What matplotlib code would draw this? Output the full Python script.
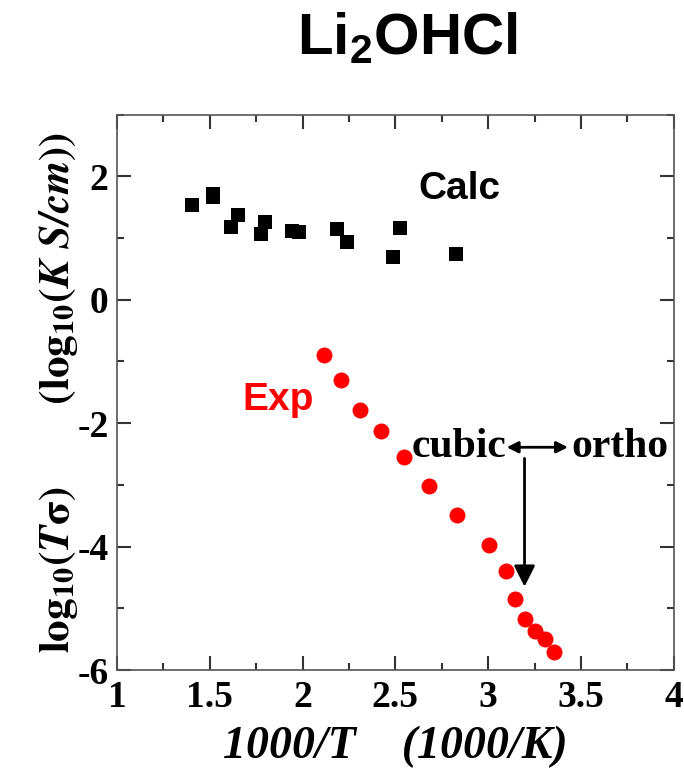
import matplotlib.pyplot as plt
from matplotlib.ticker import MultipleLocator

plt.rcParams['mathtext.fontset'] = 'custom'
plt.rcParams['mathtext.rm'] = 'Liberation Sans:bold'
plt.rcParams['mathtext.bf'] = 'Liberation Sans:bold'
plt.rcParams['mathtext.it'] = 'Liberation Sans:bold'
plt.rcParams['axes.unicode_minus'] = False

# calculated values (squares)
calc_x = [1.407, 1.515, 1.519, 1.612, 1.653, 1.774, 1.80, 1.945, 1.981, 2.185, 2.241, 2.487, 2.523, 2.825]
calc_y = [1.54, 1.72, 1.67, 1.18, 1.38, 1.07, 1.26, 1.11, 1.10, 1.15, 0.93, 0.70, 1.16, 0.74]

# experimental values (circles)
exp_x = [2.115, 2.205, 2.307, 2.424, 2.544, 2.681, 2.834, 3.004, 3.097, 3.146, 3.196, 3.250, 3.304, 3.357]
exp_y = [-0.90, -1.30, -1.78, -2.12, -2.55, -3.02, -3.49, -3.98, -4.40, -4.85, -5.17, -5.37, -5.49, -5.70]

x_ticks = [1, 1.5, 2, 2.5, 3, 3.5, 4]
x_labels = ['1', '1.5', '2', '2.5', '3', '3.5', '4']
y_ticks = [-6, -4, -2, 0, 2]
y_labels = ['-6', '-4', '-2', '0', '2']

serif = 'Liberation Serif'

fig = plt.figure(figsize=(6.84, 7.8), dpi=100)
ax = fig.add_axes([0.171, 0.141, 0.814, 0.712])

ax.plot(calc_x, calc_y, 's', color='black', ms=10.5, mew=0)
ax.plot(exp_x, exp_y, 'o', color='red', ms=11.5, mew=0)

ax.set_xlim(1, 4)
ax.set_ylim(-6, 3)
ax.set_xticks(x_ticks)
ax.set_xticklabels(x_labels)
ax.xaxis.set_minor_locator(MultipleLocator(0.25))
ax.set_yticks(y_ticks)
ax.set_yticklabels(y_labels)
ax.yaxis.set_minor_locator(MultipleLocator(1))
ax.tick_params(which='both', direction='in', top=True, right=True, width=1.5, color='#333333')
ax.tick_params(which='major', length=10, labelsize=27)
ax.tick_params(axis='x', which='major', pad=7)
ax.tick_params(axis='y', which='major', pad=6)
ax.tick_params(which='minor', length=5)
for lab in ax.get_xticklabels() + ax.get_yticklabels():
    lab.set_fontfamily(serif)
    lab.set_fontweight('bold')
for s in ax.spines.values():
    s.set_color('#555555')
    s.set_linewidth(1.2)

ax.set_xlabel('1000/T    (1000/K)', fontfamily=serif, fontweight='bold', fontstyle='italic',
              fontsize=33, labelpad=8)
ax.set_ylabel(r'$\mathbf{log_{10}(}\mathbfit{T}\mathbf{\sigma)}$      '
              r'$\mathbf{(log_{10}(}\mathbfit{K\ S/cm}\mathbf{))}$',
              fontsize=31, math_fontfamily='stix', labelpad=-2)

ax.text(2.625, 1.79, 'Calc', fontsize=28, fontweight='bold', fontfamily='Liberation Sans',
        va='center', ha='left')
ax.text(1.677, -1.63, 'Exp', fontsize=28, fontweight='bold', fontfamily='Liberation Sans',
        color='red', va='center', ha='left')

ax.text(3.10, -2.39, 'cubic', fontsize=30, fontweight='bold', fontfamily=serif,
        ha='right', va='center')
ax.text(3.45, -2.39, 'ortho', fontsize=30, fontweight='bold', fontfamily=serif,
        ha='left', va='center')
ax.annotate('', xy=(3.43, -2.39), xytext=(3.10, -2.39),
            arrowprops=dict(arrowstyle='<|-|>', color='black', lw=2, mutation_scale=17,
                            shrinkA=0, shrinkB=0))
ax.annotate('', xy=(3.196, -4.65), xytext=(3.196, -2.57),
            arrowprops=dict(arrowstyle='-|>', color='black', lw=2, mutation_scale=32,
                            shrinkA=0, shrinkB=0))

fig.text(0.595, 0.952, r'$\mathbf{Li_{2}OHCl}$', fontsize=42, ha='center', va='center')

fig.savefig('out.png', dpi=100)
